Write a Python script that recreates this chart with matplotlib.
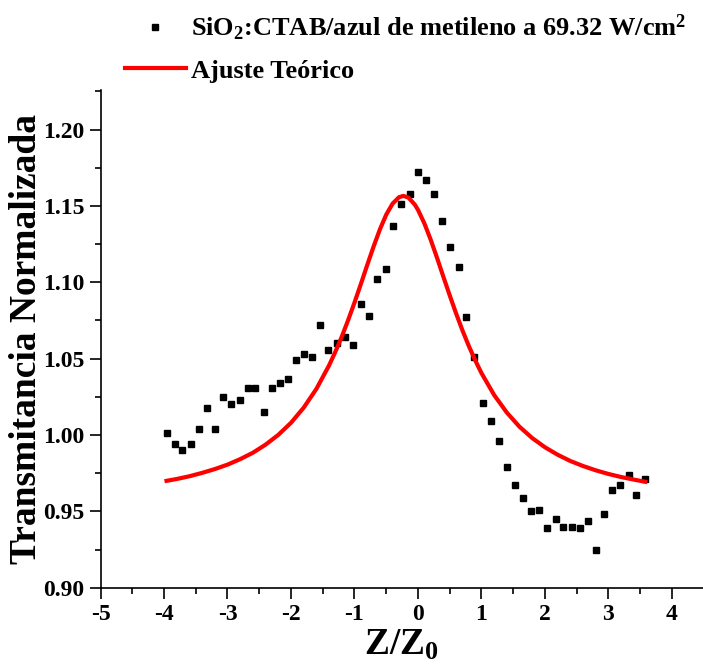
import matplotlib
matplotlib.use("Agg")
import matplotlib.pyplot as plt
from matplotlib.ticker import MultipleLocator, FormatStrFormatter

plt.rcParams['font.family'] = ['Liberation Serif', 'DejaVu Serif']
plt.rcParams['font.weight'] = 'bold'
plt.rcParams['mathtext.fontset'] = 'custom'
plt.rcParams['mathtext.rm'] = 'Liberation Serif:bold'
plt.rcParams['mathtext.it'] = 'Liberation Serif:bold'
plt.rcParams['mathtext.bf'] = 'Liberation Serif:bold'
plt.rcParams['mathtext.default'] = 'rm'
plt.rcParams['axes.unicode_minus'] = False

# experimental data (Z/Z0, normalized transmittance)
z_exp = [-3.96, -3.83, -3.71, -3.58, -3.45, -3.32, -3.19, -3.07, -2.94, -2.81,
         -2.68, -2.56, -2.43, -2.30, -2.17, -2.04, -1.92, -1.79, -1.67, -1.54,
         -1.41, -1.28, -1.15, -1.02, -0.89, -0.77, -0.64, -0.51, -0.39, -0.26,
         -0.13, 0.00, 0.13, 0.26, 0.38, 0.51, 0.64, 0.76, 0.89, 1.02,
         1.15, 1.28, 1.41, 1.53, 1.66, 1.78, 1.91, 2.04, 2.17, 2.29,
         2.42, 2.55, 2.68, 2.80, 2.93, 3.06, 3.19, 3.32, 3.44, 3.57]
t_exp = [1.001, 0.994, 0.990, 0.994, 1.004, 1.018, 1.004, 1.025, 1.020, 1.023,
         1.031, 1.031, 1.015, 1.031, 1.034, 1.037, 1.049, 1.053, 1.051, 1.072,
         1.056, 1.060, 1.064, 1.059, 1.086, 1.078, 1.102, 1.109, 1.137, 1.151,
         1.158, 1.172, 1.167, 1.158, 1.140, 1.123, 1.110, 1.077, 1.051, 1.021,
         1.009, 0.996, 0.979, 0.967, 0.959, 0.950, 0.951, 0.939, 0.945, 0.940,
         0.940, 0.939, 0.944, 0.925, 0.948, 0.964, 0.967, 0.974, 0.961, 0.971]

# theoretical fit curve
z_fit = [-3.96, -3.8, -3.6, -3.4, -3.2, -3.0, -2.8, -2.6, -2.4, -2.2,
         -2.0, -1.8, -1.6, -1.4, -1.3, -1.2, -1.1, -1.0, -0.9, -0.8,
         -0.7, -0.6, -0.5, -0.4, -0.3, -0.23, -0.15, -0.05, 0.0, 0.1,
         0.2, 0.3, 0.4, 0.5, 0.6, 0.7, 0.8, 0.9, 1.0, 1.2,
         1.4, 1.6, 1.8, 2.0, 2.2, 2.4, 2.6, 2.8, 3.0, 3.2,
         3.4, 3.58]
t_fit = [0.9700, 0.9712, 0.9730, 0.9752, 0.9777, 0.9806, 0.9842, 0.9884, 0.9937, 1.0001,
         1.0080, 1.0179, 1.0302, 1.0456, 1.0546, 1.0644, 1.0752, 1.0867, 1.0988, 1.1112,
         1.1233, 1.1346, 1.1443, 1.1515, 1.1557, 1.1566, 1.1555, 1.1509, 1.1475, 1.1387,
         1.1280, 1.1161, 1.1037, 1.0915, 1.0797, 1.0686, 1.0584, 1.0491, 1.0406, 1.0262,
         1.0147, 1.0054, 0.9980, 0.9920, 0.9871, 0.9830, 0.9797, 0.9769, 0.9745, 0.9725,
         0.9708, 0.9694]

fig = plt.figure(figsize=(7.03, 6.70), dpi=100)
ax = fig.add_axes([0.143, 0.1228, 0.857, 0.743])

ax.plot(z_exp, t_exp, linestyle='none', marker='s', markersize=5, color='black',
        label=r'SiO$_2$:CTAB/azul de metileno a 69.32 W/cm$^2$')
ax.plot(z_fit, t_fit, color='#ff0000', linewidth=3, label='Ajuste Teórico')

ax.set_xlim(-5, 4.49)
ax.set_ylim(0.90, 1.226)
ax.xaxis.set_major_locator(MultipleLocator(1))
ax.xaxis.set_minor_locator(MultipleLocator(0.5))
ax.yaxis.set_major_locator(MultipleLocator(0.05))
ax.yaxis.set_minor_locator(MultipleLocator(0.025))
ax.yaxis.set_major_formatter(FormatStrFormatter('%.2f'))
ax.tick_params(which='major', direction='out', length=8, width=1.2, labelsize=17)
ax.tick_params(which='minor', direction='out', length=4.5, width=1.2)
for s in ['top', 'right']:
    ax.spines[s].set_visible(False)
for s in ['left', 'bottom']:
    ax.spines[s].set_linewidth(1.2)

ax.set_xlabel(r'Z/Z$_0$', fontsize=27, fontweight='bold', labelpad=2)
ax.set_ylabel('Transmitancia Normalizada', fontsize=27, fontweight='bold', labelpad=-1)

fig.legend(loc='upper left', bbox_to_anchor=(0.178, 0.981), frameon=False,
           fontsize=19, numpoints=1, handlelength=2.3, handletextpad=0.2,
           labelspacing=0.62, borderpad=0, borderaxespad=0)

fig.savefig('out.png', dpi=100)
